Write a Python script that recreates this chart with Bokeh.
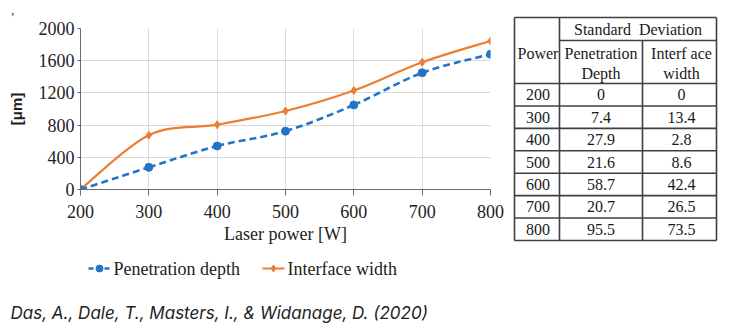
from bokeh.plotting import figure
from bokeh.models import Range1d, FixedTicker, ColumnDataSource
from bokeh.layouts import row, column
from bokeh.core.properties import value
from bokeh.embed import file_html
from bokeh.resources import INLINE

# ---------------- data ----------------
power = [200, 300, 400, 500, 600, 700, 800]
penetration_depth = [0, 275, 540, 725, 1050, 1450, 1680]
interface_width = [0, 675, 805, 975, 1230, 1580, 1845]
y_ticks = [0, 400, 800, 1200, 1600, 2000]
sd_penetration = ["0", "7.4", "27.9", "21.6", "58.7", "20.7", "95.5"]
sd_interface = ["0", "13.4", "2.8", "8.6", "42.4", "26.5", "73.5"]
series_names = ["Penetration depth", "Interface width"]
citation = "Das, A., Dale, T., Masters, I., & Widanage, D. (2020)"

BLUE = "#2474C6"
ORANGE = "#ED7D31"
SERIF = "Liberation Serif"
TOP_H = 252


def smooth_segments(xs, ys):
    n = len(xs)
    out = dict(x0=[], y0=[], x1=[], y1=[], cx0=[], cy0=[], cx1=[], cy1=[])
    for i in range(n - 1):
        a = i - 1 if i > 0 else i
        b = i + 2 if i + 2 < n else i + 1
        out["x0"].append(xs[i]); out["y0"].append(ys[i])
        out["x1"].append(xs[i + 1]); out["y1"].append(ys[i + 1])
        out["cx0"].append(xs[i] + (xs[i + 1] - xs[a]) / 6)
        out["cy0"].append(ys[i] + (ys[i + 1] - ys[a]) / 6)
        out["cx1"].append(xs[i + 1] - (xs[b] - xs[i]) / 6)
        out["cy1"].append(ys[i + 1] - (ys[b] - ys[i]) / 6)
    return ColumnDataSource(out)


# ---------------- chart ----------------
p = figure(width=505, height=TOP_H, output_backend="svg", toolbar_location=None,
           x_range=Range1d(200, 800), y_range=Range1d(0, 2000),
           min_border_left=80, min_border_right=15, min_border_top=28,
           min_border_bottom=TOP_H - 189)
p.frame_align = False
p.outline_line_color = None

p.xaxis.ticker = FixedTicker(ticks=power)
p.yaxis.ticker = FixedTicker(ticks=y_ticks)
for ax in (p.xaxis, p.yaxis):
    ax.axis_line_color = "#6b6b6b"
    ax.major_tick_line_color = "#6b6b6b"
    ax.minor_tick_line_color = None
    ax.major_tick_in = 0
    ax.major_label_text_font = SERIF
    ax.major_label_text_font_size = "18px"
    ax.major_label_text_color = "#222222"
p.xaxis.major_tick_out = 6
p.xaxis.major_label_standoff = 9
p.yaxis.major_tick_out = 3
p.yaxis.major_label_standoff = 3
p.xaxis.axis_label = "Laser power [W]"
p.xaxis.axis_label_text_font = SERIF
p.xaxis.axis_label_text_font_size = "18px"
p.xaxis.axis_label_text_font_style = "normal"
p.xaxis.axis_label_text_color = "#222222"
p.xaxis.axis_label_standoff = 3
p.yaxis.axis_label = "[μm]"
p.yaxis.axis_label_text_font = "Liberation Sans"
p.yaxis.axis_label_text_font_style = "bold"
p.yaxis.axis_label_text_font_size = "15px"
p.yaxis.axis_label_text_color = "#222222"
p.yaxis.axis_label_standoff = 11

p.title.text = "ʼ"
p.title.align = "left"
p.title.offset = -70
p.title.text_font = SERIF
p.title.text_font_size = "13px"
p.title.text_font_style = "normal"
p.title.text_color = "#333333"

p.xgrid.grid_line_color = "#d9d9d9"
p.ygrid.grid_line_color = "#d9d9d9"

blue_src = smooth_segments(power, penetration_depth)
orange_src = smooth_segments(power, interface_width)
p.bezier(x0="x0", y0="y0", x1="x1", y1="y1", cx0="cx0", cy0="cy0",
         cx1="cx1", cy1="cy1", source=orange_src, line_color=ORANGE,
         line_width=2.2)
p.bezier(x0="x0", y0="y0", x1="x1", y1="y1", cx0="cx0", cy0="cy0",
         cx1="cx1", cy1="cy1", source=blue_src, line_color=BLUE,
         line_width=2.6, line_dash="7 4")
p.scatter(power, interface_width, marker="diamond", size=8, color=ORANGE)
p.scatter(power, penetration_depth, marker="circle", size=8, color=BLUE)

# ---------------- table ----------------
t = figure(width=238, height=TOP_H, output_backend="svg",
           toolbar_location=None, x_range=Range1d(0, 238),
           y_range=Range1d(TOP_H, 0), x_axis_location=None,
           y_axis_location=None, min_border=0)
t.frame_align = False
t.outline_line_color = None
t.xgrid.visible = False
t.ygrid.visible = False

col_x = [9, 54, 137, 211]
top, h1, h2 = 17, 40, 83
row_h = (240 - h2) / len(power)
row_y = [h2 + i * row_h for i in range(len(power) + 1)]

sx0, sy0, sx1, sy1 = [], [], [], []
for i, cx in enumerate(col_x):
    sx0.append(cx); sx1.append(cx)
    sy0.append(h1 if i == 2 else top); sy1.append(row_y[-1])
sx0.append(col_x[0]); sx1.append(col_x[3]); sy0.append(top); sy1.append(top)
sx0.append(col_x[1]); sx1.append(col_x[3]); sy0.append(h1); sy1.append(h1)
for ry in row_y:
    sx0.append(col_x[0]); sx1.append(col_x[3]); sy0.append(ry); sy1.append(ry)
t.segment(sx0, sy0, sx1, sy1, line_color="#404040", line_width=1.6)

c0 = (col_x[0] + col_x[1]) / 2 + 1
c1 = (col_x[1] + col_x[2]) / 2
c2 = (col_x[2] + col_x[3]) / 2 + 2
mids = [(row_y[i] + row_y[i + 1]) / 2 for i in range(len(power))]

tx = [c0] * len(power) + [c1] * len(power) + [c2] * len(power)
ty = mids * 3
tt = [str(v) for v in power] + sd_penetration + sd_interface
tx += [(col_x[1] + col_x[3]) / 2, c0, c1, c1, c2, c2]
ty += [(top + h1) / 2, 53, 53, 73, 53, 73]
tt += ["Standard\u00a0\u00a0Deviation", "Power", "Penetration", "Depth",
       "Interf ace", "width"]
t.text(x=tx, y=ty, text=tt, text_font=value(SERIF), text_font_size="16px",
       text_align="center", text_baseline="middle", text_color="#1a1a1a")

# ---------------- legend + citation ----------------
BOT_H = 332 - TOP_H
b = figure(width=743, height=BOT_H, output_backend="svg",
           toolbar_location=None, x_range=Range1d(0, 743),
           y_range=Range1d(BOT_H, 0), x_axis_location=None,
           y_axis_location=None, min_border=0)
b.frame_align = False
b.outline_line_color = None
b.xgrid.visible = False
b.ygrid.visible = False

leg_y = 268 - TOP_H
key_x = [88, 262]
b.segment(x0=[key_x[0]], y0=[leg_y], x1=[key_x[0] + 22], y1=[leg_y],
          line_color=BLUE, line_width=2.4, line_dash="5 3")
b.scatter(x=[key_x[0] + 11], y=[leg_y], marker="circle", size=7, color=BLUE)
b.segment(x0=[key_x[1]], y0=[leg_y], x1=[key_x[1] + 22], y1=[leg_y],
          line_color=ORANGE, line_width=2.0)
b.scatter(x=[key_x[1] + 11], y=[leg_y], marker="diamond", size=7,
          color=ORANGE)
b.text(x=[k + 25 for k in key_x], y=[leg_y, leg_y], text=series_names,
       text_font=value(SERIF), text_font_size="18px", text_color="#222222",
       text_baseline="middle", text_align="left")
b.text(x=[10], y=[312 - TOP_H], text=[citation], text_font=value("Inter"),
       text_font_style="italic", text_font_size="17px", text_color="#222222",
       text_baseline="middle", text_align="left")

layout = column(row(p, t), b)
open("out.html", "w").write(file_html(layout, INLINE))
